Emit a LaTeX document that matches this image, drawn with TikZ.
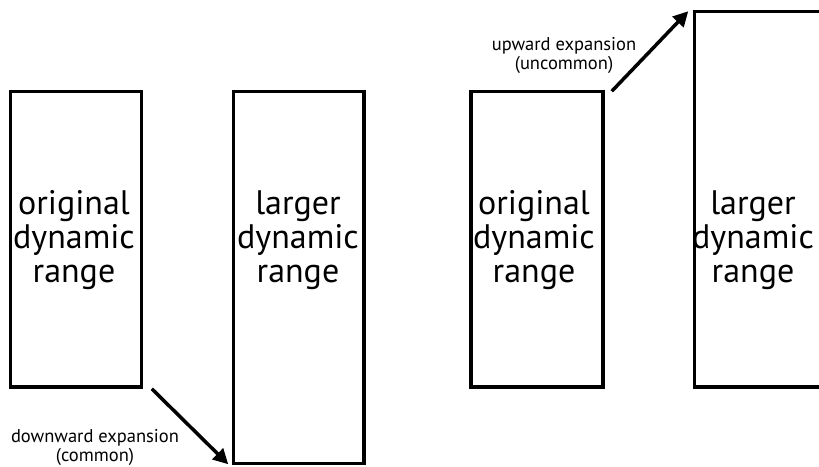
\documentclass[tikz,border=0pt]{standalone}
\usepackage{fontspec}
\setmainfont{PT Sans}
\usetikzlibrary{arrows.meta,calc}
\tikzset{
  rangebox/.style={draw=black, line width=3.5pt, rectangle, inner sep=0pt},
  bigtxt/.style={align=center, font=\fontsize{34}{34}\selectfont, inner sep=0pt},
  smalltxt/.style={align=center, font=\fontsize{18.5}{19}\selectfont, inner sep=0pt},
  exparrow/.style={line width=3.5pt, -{Triangle[length=15pt,width=15pt]}}
}
\begin{document}
\begin{tikzpicture}[x=1pt,y=-1pt]
\useasboundingbox (0,0) rectangle (819,466);
\clip (0,0) rectangle (819,466);
% boxes
\node[rangebox, minimum width=131pt, minimum height=295.5pt] (b1) at (76,239.25) {};
\node[rangebox, minimum width=130.5pt, minimum height=372pt] (b2) at (298.75,277.5) {};
\node[rangebox, minimum width=132pt, minimum height=295.5pt] (b3) at (537,239.25) {};
\node[rangebox, minimum width=131.5pt, minimum height=375.5pt] (b4) at (760.25,199.25) {};
% box texts
\node[bigtxt] (t1) at (74,240) {original\\dynamic\\range};
\node[bigtxt] (t2) at (298,240) {larger\\dynamic\\range};
\node[bigtxt] (t3) at (534,240) {original\\dynamic\\range};
\node[bigtxt] (t4) at (753,240) {larger\\dynamic\\range};
% arrows
\draw[exparrow] ($(b1.south east)+(8.5,0)$) -- ($(b2.south west)+(-3.5,-1)$);
\draw[exparrow] ($(b3.north east)+(7,1.5)$) -- ($(b4.north west)+(-4.5,1.5)$);
% arrow labels
\node[smalltxt] (l1) at (95,447) {downward expansion\\(common)};
\node[smalltxt] (l2) at (564,55) {upward expansion\\(uncommon)};
\end{tikzpicture}
\end{document}
